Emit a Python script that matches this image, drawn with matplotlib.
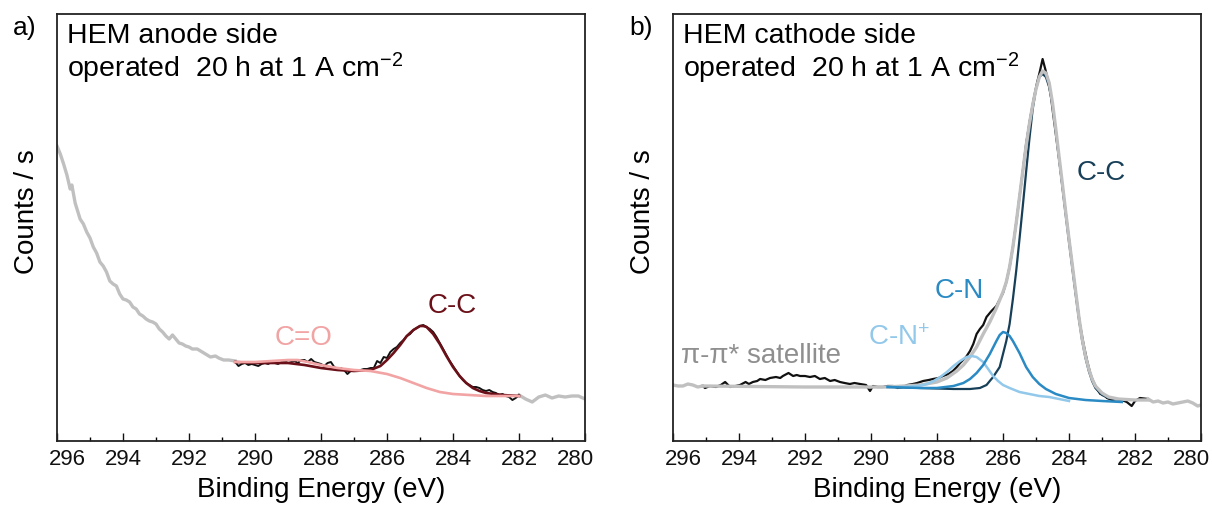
import matplotlib
matplotlib.use("Agg")
import matplotlib.pyplot as plt
from matplotlib.transforms import ScaledTranslation

plt.rcParams['font.family'] = ['Liberation Sans', 'DejaVu Sans']
plt.rcParams['mathtext.default'] = 'regular'

# ---- panel a: HEM anode side (counts in arbitrary units) ----
a_raw_left_x = [296.0, 295.9, 295.8, 295.7, 295.6, 295.55, 295.45, 295.3, 295.2, 295.1, 295.0, 294.9,
                294.8, 294.7, 294.6, 294.5, 294.4, 294.3, 294.2, 294.1, 294.0, 293.9, 293.8, 293.7,
                293.6, 293.5, 293.4, 293.3, 293.2, 293.1, 293.0, 292.9, 292.8, 292.7, 292.6, 292.5,
                292.4, 292.3, 292.2, 292.1, 292.0, 291.9, 291.75, 291.6, 291.5, 291.35, 291.2, 291.1,
                290.95, 290.8, 290.6]
a_raw_left_y = [295, 287, 277, 266, 252, 256, 238, 222, 217, 209, 203, 194,
                188, 179, 175, 169, 160, 157, 155, 147, 142, 141, 139, 134,
                132, 127, 125, 122, 120, 119, 117, 112, 109, 105, 102, 106,
                102, 98, 97, 95, 94, 92, 92, 89, 87, 84, 85, 83,
                81, 81, 80]

a_data_x = [290.6, 290.5, 290.4, 290.3, 290.2, 290.1, 290.0, 289.9, 289.8, 289.7, 289.6, 289.5,
            289.4, 289.3, 289.2, 289.1, 289.0, 288.9, 288.8, 288.7, 288.6, 288.5, 288.4, 288.3,
            288.2, 288.1, 288.0, 287.9, 287.8, 287.7, 287.6, 287.5, 287.4, 287.3, 287.2, 287.1,
            287.0, 286.9, 286.8, 286.7, 286.6, 286.5, 286.4, 286.3, 286.2, 286.1, 286.0, 285.9,
            285.8, 285.7, 285.6, 285.5, 285.4, 285.3, 285.2, 285.1, 285.0, 284.9, 284.8, 284.7,
            284.6, 284.5, 284.4, 284.3, 284.2, 284.1, 284.0, 283.9, 283.8, 283.7, 283.6, 283.5,
            283.4, 283.3, 283.2, 283.1, 283.0, 282.9, 282.8, 282.7, 282.6, 282.5, 282.4, 282.3,
            282.2, 282.1, 282.0]
a_data_y = [79, 75, 77, 78, 76, 77, 76, 75, 77, 78, 77, 79,
            78, 77, 79, 80, 78, 79, 80, 78, 81, 81, 79, 82,
            79, 78, 77, 75, 78, 79, 74, 72, 73, 71, 67, 70,
            71, 70, 71, 72, 72, 73, 73, 80, 78, 84, 83, 89,
            92, 94, 98, 101, 105, 107, 111, 113, 115, 116, 114, 112,
            109, 104, 98, 92, 86, 80, 75, 70, 65, 61, 58, 56,
            54, 54, 53, 51, 50, 51, 49, 48, 46, 47, 45, 44,
            41, 43, 46]

a_fit_x = [290.6, 290.0, 289.5, 289.0, 288.5, 288.0, 287.5, 287.0, 286.5, 286.2, 286.0, 285.8,
           285.6, 285.4, 285.2, 285.0, 284.9, 284.8, 284.6, 284.4, 284.2, 284.0, 283.8, 283.6,
           283.4, 283.2, 283.0, 282.5, 282.0]
a_fit_y = [79, 78, 78, 78, 76, 73, 71, 70, 71, 75, 81, 88,
           96, 105, 111, 115, 115, 114, 107, 97, 85, 74, 65, 58,
           53, 50, 48, 46, 45]

a_co_x = [290.6, 290.0, 289.5, 289.0, 288.7, 288.4, 288.0, 287.5, 287.0, 286.5, 286.0, 285.6,
          285.2, 284.8, 284.4, 284.0, 283.5, 283.0, 282.0]
a_co_y = [79, 79, 80, 81, 81, 79, 76, 73, 71, 70, 67, 63,
          58, 53, 49, 47, 46, 45, 45]

a_raw_right_x = [282.0, 281.8, 281.6, 281.4, 281.2, 281.0, 280.8, 280.6, 280.4, 280.2, 280.0]
a_raw_right_y = [46, 42, 39, 44, 46, 43, 45, 44, 45, 45, 42]

# ---- panel b: HEM cathode side ----
b_raw_left_x = [296.0, 295.85, 295.7, 295.55, 295.4, 295.25, 295.1]
b_raw_left_y = [56, 55, 55, 57, 56, 54, 55]

b_data_x = [295.1, 295.03, 294.88, 294.7, 294.55, 294.42, 294.27, 294.1, 293.97, 293.8, 293.7, 293.58,
            293.45, 293.36, 293.2, 293.06, 292.88, 292.75, 292.67, 292.5, 292.36, 292.25, 292.15, 292.0,
            291.85, 291.7, 291.55, 291.4, 291.24, 291.1, 290.94, 290.8, 290.64, 290.5, 290.33, 290.15,
            290.03, 289.94, 289.8, 289.64, 289.5, 289.33, 289.2, 289.03, 288.9, 288.73, 288.6, 288.42,
            288.25, 288.12, 287.95, 287.82, 287.65, 287.52, 287.4, 287.3, 287.12, 287.0, 286.9, 286.8,
            286.7, 286.6, 286.5, 286.35, 286.2, 286.0, 285.9, 285.8, 285.7, 285.6, 285.5, 285.4,
            285.3, 285.18, 285.07, 284.97, 284.88, 284.8, 284.72, 284.63, 284.55, 284.48, 284.38, 284.27,
            284.17, 284.06, 283.97, 283.88, 283.78, 283.67, 283.56, 283.45, 283.35, 283.27, 283.15, 283.05,
            282.97, 282.85, 282.7, 282.55, 282.4, 282.25, 282.1, 282.0, 281.85, 281.6]
b_data_y = [55, 53, 55, 54, 56, 59, 54, 55, 56, 59, 57, 59,
            60, 62, 61, 63, 64, 63, 65, 68, 65, 66, 65, 65,
            64, 65, 62, 63, 60, 61, 59, 58, 57, 58, 57, 56,
            50, 55, 54, 54, 55, 55, 53, 54, 56, 57, 58, 60,
            61, 62, 63, 65, 67, 70, 74, 78, 84, 90, 97, 107,
            112, 116, 124, 130, 135, 148, 159, 174, 194, 218, 244, 270,
            297, 322, 342, 358, 370, 382, 372, 360, 345, 327, 302, 274,
            247, 218, 194, 170, 144, 117, 97, 80, 67, 60, 52, 47,
            47, 43, 41, 42, 41, 39, 35, 40, 43, 42]

b_env_x = [295.1, 292.0, 289.5, 288.5, 288.0, 287.7, 287.4, 287.2, 287.0, 286.8, 286.6, 286.4,
           286.2, 286.0, 285.9, 285.8, 285.7, 285.6, 285.5, 285.4, 285.3, 285.2, 285.1, 285.0,
           284.9, 284.8, 284.7, 284.6, 284.5, 284.4, 284.3, 284.2, 284.1, 284.0, 283.9, 283.8,
           283.7, 283.6, 283.5, 283.4, 283.3, 283.2, 283.0, 282.8, 282.5, 282.0, 281.6]
b_env_y = [55, 54, 54, 56, 59, 63, 70, 76, 84, 94, 107, 119,
           133, 149, 159, 174, 194, 218, 244, 270, 295, 317, 336, 352,
           364, 370, 368, 358, 338, 312, 284, 257, 229, 202, 176, 150,
           124, 102, 85, 72, 62, 55, 48, 44, 42, 41, 41]

b_cc_x = [289.5, 288.5, 287.5, 287.0, 286.7, 286.5, 286.3, 286.1, 285.9, 285.8, 285.7, 285.6,
          285.5, 285.4, 285.3, 285.2, 285.1, 285.0, 284.9, 284.8, 284.7, 284.6, 284.5, 284.4,
          284.3, 284.2, 284.1, 284.0, 283.9, 283.8, 283.7, 283.6, 283.5, 283.4, 283.3, 283.2,
          283.0, 282.8, 282.4]
b_cc_y = [54, 53, 52, 52, 53, 56, 64, 74, 100, 117, 142, 170,
          202, 235, 269, 302, 332, 352, 364, 367, 364, 354, 336, 310,
          282, 254, 226, 199, 173, 147, 122, 100, 83, 70, 60, 53,
          46, 43, 41]

b_cn_x = [289.5, 288.5, 288.0, 287.5, 287.2, 287.0, 286.8, 286.6, 286.4, 286.2, 286.1, 286.0,
          285.9, 285.8, 285.7, 285.5, 285.3, 285.1, 284.9, 284.7, 284.4, 284.0, 283.5, 283.0,
          282.4]
b_cn_y = [54, 53, 53, 55, 58, 62, 68, 76, 87, 100, 106, 109,
          108, 105, 100, 88, 74, 64, 57, 52, 47, 43, 41, 40,
          39]

b_cnp_x = [289.5, 289.0, 288.6, 288.3, 288.1, 287.9, 287.7, 287.5, 287.3, 287.1, 286.95, 286.8,
           286.6, 286.45, 286.3, 286.15, 286.0, 285.8, 285.5, 285.2, 284.9, 284.6, 284.3, 284.0]
b_cnp_y = [54, 54, 55, 57, 60, 64, 69, 75, 80, 84, 85, 84,
           79, 72, 65, 60, 56, 53, 49, 47, 45, 44, 42, 40]

b_raw_right_x = [281.6, 281.45, 281.3, 281.15, 281.0, 280.85, 280.7, 280.55, 280.4, 280.25, 280.1, 280.0]
b_raw_right_y = [42, 39, 40, 38, 39, 37, 38, 39, 40, 38, 35, 36]

major_ticks = [296, 294, 292, 290, 288, 286, 284, 282, 280]
minor_ticks = [295, 293, 291, 289, 287, 285, 283, 281]

GRAY = '#c0c0c0'
DARKRED = '#6b1018'
PINK = '#f2a3a3'
NAVY = '#173f58'
MIDBLUE = '#2a8ac4'
LIGHTBLUE = '#92c8ea'

fig = plt.figure(figsize=(12.12, 5.06), dpi=100)
ax_a = fig.add_axes([57 / 1212, 1 - 442 / 506, 528 / 1212, 427 / 506])
ax_b = fig.add_axes([673 / 1212, 1 - 442 / 506, 528 / 1212, 427 / 506])

# panel a
ax_a.plot(a_raw_left_x, a_raw_left_y, color=GRAY, lw=2.4, zorder=2)
ax_a.plot(a_raw_right_x, a_raw_right_y, color=GRAY, lw=2.4, zorder=2)
ax_a.plot(a_data_x, a_data_y, color='#111111', lw=1.4, zorder=3)
ax_a.plot(a_fit_x, a_fit_y, color=DARKRED, lw=1.9, zorder=4)
ax_a.plot(a_co_x, a_co_y, color=PINK, lw=1.9, zorder=5)
ax_a.text(289.42, 97, 'C=O', color=PINK, fontsize=20, ha='left', va='baseline')
ax_a.text(284.76, 129, 'C-C', color=DARKRED, fontsize=20, ha='left', va='baseline')

# panel b
ax_b.plot(b_raw_left_x, b_raw_left_y, color=GRAY, lw=2.4, zorder=2)
ax_b.plot(b_raw_right_x, b_raw_right_y, color=GRAY, lw=2.4, zorder=2)
ax_b.plot(b_data_x, b_data_y, color='#111111', lw=1.6, zorder=1)
ax_b.plot(b_cc_x, b_cc_y, color=NAVY, lw=1.6, zorder=2)
ax_b.plot(b_env_x, b_env_y, color=GRAY, lw=2.4, zorder=3)
ax_b.plot(b_cnp_x, b_cnp_y, color=LIGHTBLUE, lw=1.8, zorder=4)
ax_b.plot(b_cn_x, b_cn_y, color=MIDBLUE, lw=1.8, zorder=5)
ax_b.text(283.76, 262, 'C-C', color=NAVY, fontsize=20, ha='left', va='baseline')
ax_b.text(288.06, 144, 'C-N', color=MIDBLUE, fontsize=20, ha='left', va='baseline')
ax_b.text(290.09, 97, 'C-N$^{+}$', color=LIGHTBLUE, fontsize=20, ha='left', va='baseline')
ax_b.text(295.76, 79, 'π-π* satellite', color='#8f8f8f', fontsize=20, ha='left', va='baseline')

titles = [(ax_a, 'HEM anode side', 'a)'), (ax_b, 'HEM cathode side', 'b)')]
for ax, side, letter in titles:
    ax.set_xlim(296, 280)
    ax.set_ylim(0, 427)
    ax.set_yticks([])
    ax.set_xticks(major_ticks)
    ax.set_xticks(minor_ticks, minor=True)
    ax.tick_params(axis='x', which='major', direction='in', length=5.8, width=1.0,
                   labelsize=16, pad=5, top=False, colors='#111111')
    ax.tick_params(axis='x', which='minor', direction='in', length=3, width=1.0, top=False)
    for s in ax.spines.values():
        s.set_linewidth(1.3)
        s.set_color('#222222')
    ax.set_xlabel('Binding Energy (eV)', fontsize=20, labelpad=5)
    ax.set_ylabel('Counts / s', fontsize=20)
    ax.yaxis.set_label_coords(-0.032, 0.54)
    ax.text(0.019, 0.934, side, transform=ax.transAxes, fontsize=20.5, va='baseline')
    ax.text(0.019, 0.853, 'operated  20 h at 1 A cm$^{-2}$', transform=ax.transAxes,
            fontsize=20.5, va='baseline')
    pos = ax.get_position()
    fig.text(pos.x0 - 44 / 1212, 1 - 35 / 506, letter, fontsize=19, va='baseline')

    # edge labels sit inside the frame
    ticks = ax.xaxis.get_major_ticks()
    for tick, val in zip(ticks, major_ticks):
        lbl = tick.label1
        if val == major_ticks[0]:
            lbl.set_transform(lbl.get_transform() + ScaledTranslation(10 / 100, 0, fig.dpi_scale_trans))
        elif val == major_ticks[-1]:
            lbl.set_transform(lbl.get_transform() + ScaledTranslation(-10 / 100, 0, fig.dpi_scale_trans))

fig.savefig('out.png', dpi=100)
